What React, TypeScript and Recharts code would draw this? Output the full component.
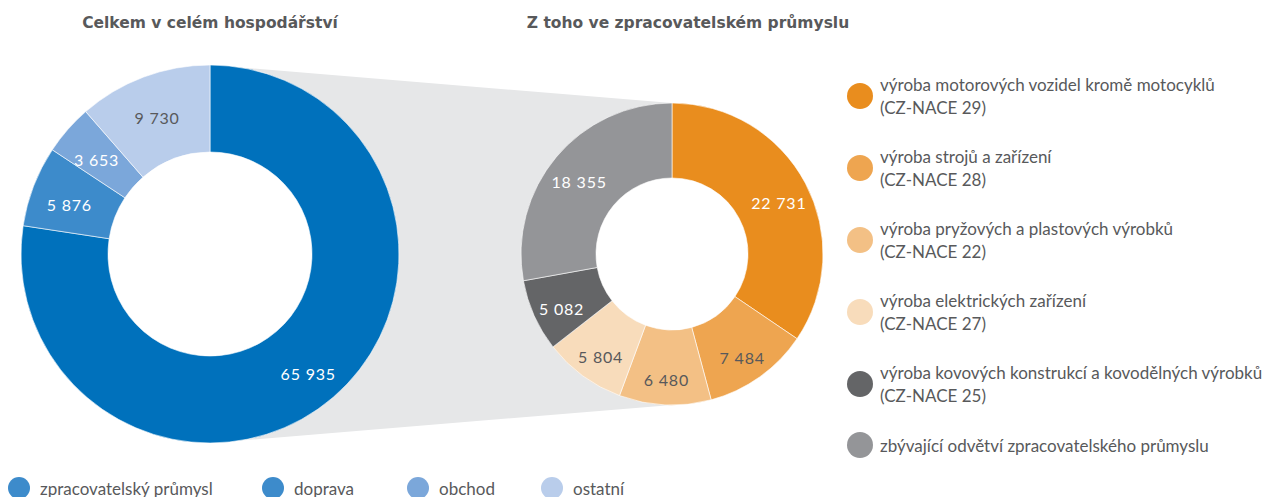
import { PieChart, Pie, Cell } from "recharts";

// celkem v celém hospodářství
const totalLabels = ["zpracovatelský průmysl", "doprava", "obchod", "ostatní"];
const totalValues = [65935, 5876, 3653, 9730];
const totalColors = ["#0071bc", "#3d8bcb", "#7ba7da", "#b9cdeb"];
const totalLegendColors = ["#3d8bcb", "#3d8bcb", "#7ba7da", "#b9cdeb"];

// z toho ve zpracovatelském průmyslu
const mfgLabels = [
  "výroba motorových vozidel kromě motocyklů",
  "výroba strojů a zařízení",
  "výroba pryžových a plastových výrobků",
  "výroba elektrických zařízení",
  "výroba kovových konstrukcí a kovodělných výrobků",
  "zbývající odvětví zpracovatelského průmyslu",
];
const mfgCodes = ["CZ-NACE 29", "CZ-NACE 28", "CZ-NACE 22", "CZ-NACE 27", "CZ-NACE 25", ""];
const mfgValues = [22731, 7484, 6480, 5804, 5082, 18355];
const mfgColors = ["#e98d1e", "#eea550", "#f3c085", "#f8dcbb", "#646567", "#949598"];

const W = 1268;
const H = 497;
const TEXT = "#58595b";
const FONT = "Lato, 'Noto Sans', sans-serif";
const TITLE_FONT = "'DejaVu Sans', sans-serif";

const LEFT = { cx: 210, cy: 254, inner: 102, outer: 189, k: 0.56 };
const RIGHT = { cx: 672, cy: 254, inner: 76, outer: 151, k: 0.6 };

const fmt = (v: number) => String(v).replace(/\B(?=(\d{3})+(?!\d))/g, " ");

function makeLabel(dark: boolean[], k: number) {
  return (props: unknown) => {
    const p = props as {
      cx: number;
      cy: number;
      midAngle: number;
      innerRadius: number;
      outerRadius: number;
      value: number;
      index: number;
    };
    const r = p.innerRadius + (p.outerRadius - p.innerRadius) * k;
    const rad = (-p.midAngle * Math.PI) / 180;
    const x = p.cx + r * Math.cos(rad);
    const y = p.cy + r * Math.sin(rad) + 5;
    return (
      <text
        x={x}
        y={y}
        fill={dark[p.index] ? TEXT : "#fff"}
        fontSize={16}
        fontFamily={FONT}
        letterSpacing={0.8}
        textAnchor="middle"
        dominantBaseline="central"
      >
        {fmt(p.value)}
      </text>
    );
  };
}

const totalData = totalLabels.map((name, i) => ({ name, value: totalValues[i] }));
const mfgData = mfgLabels.map((name, i) => ({ name, value: mfgValues[i] }));

export default function App() {
  return (
    <div
      style={{
        position: "absolute",
        left: 0,
        top: 0,
        width: W,
        height: H,
        overflow: "hidden",
        background: "#fff",
        fontFamily: FONT,
        color: TEXT,
      }}
    >
      {/* šedý spojovací pás za grafy */}
      <svg width={W} height={H} style={{ position: "absolute", left: 0, top: 0 }}>
        <polygon
          fill="#e6e7e8"
          points={`${LEFT.cx},${LEFT.cy - LEFT.outer} ${RIGHT.cx},${RIGHT.cy - RIGHT.outer} ${RIGHT.cx},${RIGHT.cy + RIGHT.outer} ${LEFT.cx},${LEFT.cy + LEFT.outer}`}
        />
        <circle cx={LEFT.cx} cy={LEFT.cy} r={LEFT.inner + 1} fill="#fff" />
        <circle cx={RIGHT.cx} cy={RIGHT.cy} r={RIGHT.inner + 1} fill="#fff" />
        <text x={LEFT.cx} y={28} textAnchor="middle" fontWeight={700} fontSize={15.5} fill={TEXT} fontFamily={TITLE_FONT}>
          Celkem v celém hospodářství
        </text>
        <text x={RIGHT.cx + 16} y={28} textAnchor="middle" fontWeight={700} fontSize={15.5} fill={TEXT} fontFamily={TITLE_FONT}>
          Z toho ve zpracovatelském průmyslu
        </text>
      </svg>

      <div style={{ position: "absolute", left: 0, top: 0 }}>
        <PieChart width={840} height={H} margin={{ top: 0, right: 0, bottom: 0, left: 0 }}>
          <Pie
            data={totalData}
            dataKey="value"
            nameKey="name"
            cx={LEFT.cx}
            cy={LEFT.cy}
            innerRadius={LEFT.inner}
            outerRadius={LEFT.outer}
            startAngle={90}
            endAngle={-270}
            stroke="#fff"
            strokeWidth={0.6}
            labelLine={false}
            label={makeLabel([false, false, false, true], LEFT.k)}
            isAnimationActive={false}
          >
            {totalData.map((d, i) => (
              <Cell key={d.name} fill={totalColors[i]} />
            ))}
          </Pie>
          <Pie
            data={mfgData}
            dataKey="value"
            nameKey="name"
            cx={RIGHT.cx}
            cy={RIGHT.cy}
            innerRadius={RIGHT.inner}
            outerRadius={RIGHT.outer}
            startAngle={90}
            endAngle={-270}
            stroke="#fff"
            strokeWidth={0.6}
            labelLine={false}
            label={makeLabel([false, true, true, true, false, false], RIGHT.k)}
            isAnimationActive={false}
          >
            {mfgData.map((d, i) => (
              <Cell key={d.name} fill={mfgColors[i]} />
            ))}
          </Pie>
        </PieChart>
      </div>

      {/* legenda vpravo */}
      <div style={{ position: "absolute", left: 847, top: 73 }}>
        {mfgLabels.map((l, i) => (
          <div
            key={l}
            style={{
              position: "absolute",
              top: i * 72 + (mfgCodes[i] ? 0 : -1),
              left: 0,
              display: "flex",
              alignItems: "center",
              width: 430,
            }}
          >
            <span
              style={{
                display: "inline-block",
                width: 26,
                height: 26,
                borderRadius: "50%",
                background: mfgColors[i],
                flex: "none",
              }}
            />
            <span style={{ marginLeft: 7, fontSize: 17, lineHeight: "23px", whiteSpace: "nowrap" }}>
              {l}
              {mfgCodes[i] && <br />}
              {mfgCodes[i] && `(${mfgCodes[i]})`}
            </span>
          </div>
        ))}
      </div>

      {/* legenda dole */}
      <div style={{ position: "absolute", left: 8, top: 477 }}>
        {totalLabels.map((l, i) => (
          <div
            key={l}
            style={{
              position: "absolute",
              left: [0, 254, 399, 533][i],
              top: 0,
              display: "flex",
              alignItems: "center",
              whiteSpace: "nowrap",
            }}
          >
            <span
              style={{
                display: "inline-block",
                width: 22,
                height: 22,
                borderRadius: "50%",
                background: totalLegendColors[i],
                flex: "none",
              }}
            />
            <span style={{ marginLeft: 10, fontSize: 17 }}>{l}</span>
          </div>
        ))}
      </div>
    </div>
  );
}
